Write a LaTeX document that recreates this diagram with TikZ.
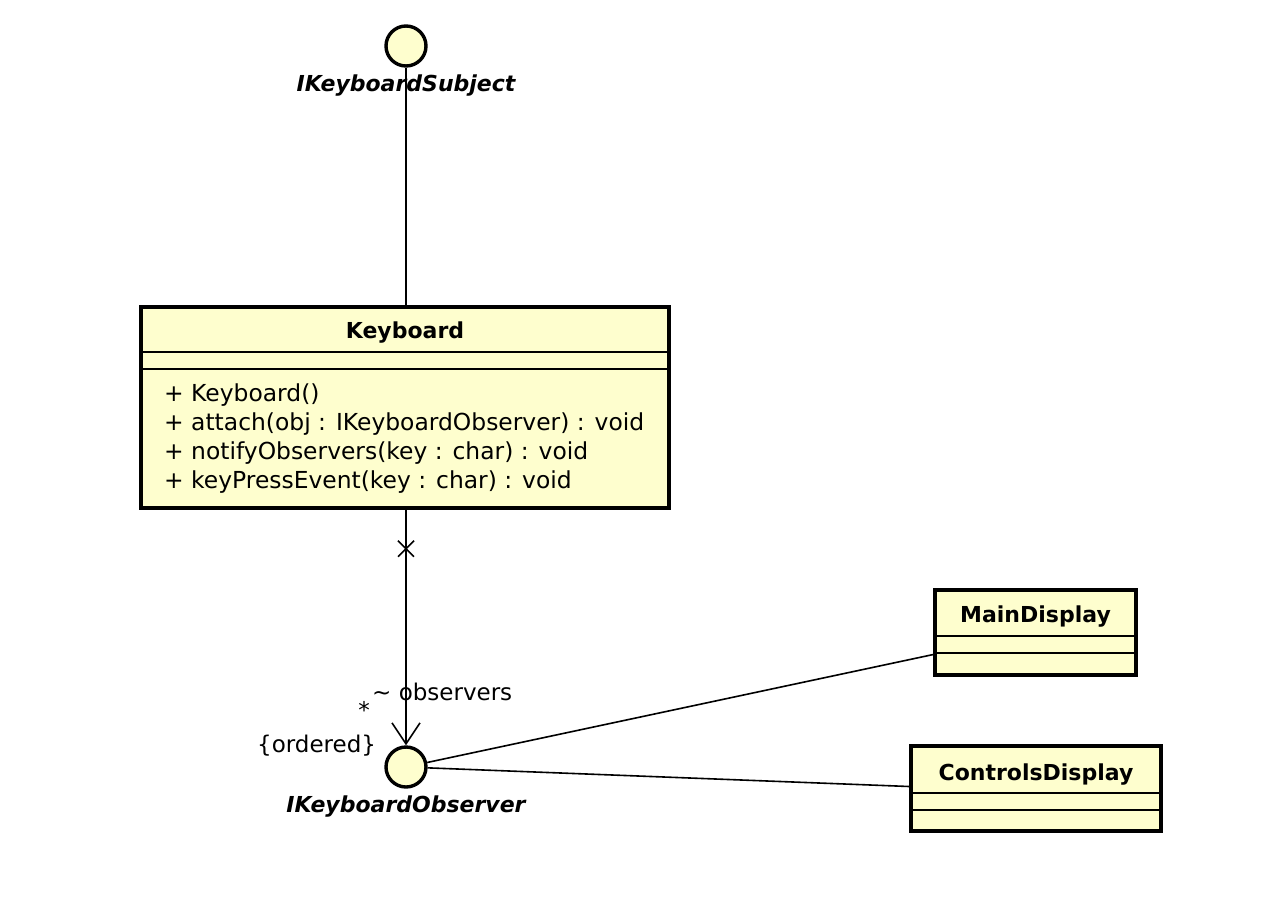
\documentclass[tikz,border=0pt]{standalone}
\usepackage{fontspec}
\setmainfont{DejaVu Sans}
\usetikzlibrary{arrows.meta}
\definecolor{umlfill}{HTML}{FEFECE}
\tikzset{
  classbox/.style={draw=black, line width=3.4pt, fill=umlfill, inner sep=0pt},
  iface/.style={circle, draw=black, line width=3.4pt, fill=umlfill, minimum size=40pt, inner sep=0pt},
  sep/.style={line width=1.6pt},
  conn/.style={line width=1.6pt},
  ititle/.style={font=\fontsize{22}{26}\selectfont\bfseries\itshape, inner sep=0pt, anchor=base},
  ctitle/.style={font=\fontsize{22}{26}\selectfont\bfseries, inner sep=0pt, anchor=base},
  member/.style={font=\fontsize{23.4}{29}\selectfont, inner sep=0pt, anchor=base west},
  lbl/.style={font=\fontsize{23}{29}\selectfont, inner sep=0pt},
}
\begin{document}
\begin{tikzpicture}[x=1pt,y=-1pt]
\useasboundingbox (0,0) rectangle (1268,898);

% interfaces
\node[iface] (subj) at (406,46) {};
\node[ititle] (subjlbl) at (406,91) {IKeyboardSubject};
\node[iface] (obs) at (406,767) {};
\node[ititle] (obslbl) at (406,812) {IKeyboardObserver};

% Keyboard class
\node[classbox, minimum width=528pt, minimum height=201pt] (kb) at (405,407.5) {};
\node[ctitle] (kbtitle) at (405,338) {Keyboard};
\draw[sep] (141,352) -- (669,352);
\draw[sep] (141,369) -- (669,369);
\node[member] (m1) at (164,401) {+ Keyboard()};
\node[member] (m2) at (164,430) {+ attach(obj : IKeyboardObserver) : void};
\node[member] (m3) at (164,459) {+ notifyObservers(key : char) : void};
\node[member] (m4) at (164,488) {+ keyPressEvent(key : char) : void};

% MainDisplay
\node[classbox, minimum width=201pt, minimum height=85pt] (md) at (1035.5,632.5) {};
\node[ctitle] (mdtitle) at (1035.5,622) {MainDisplay};
\draw[sep] (935,636) -- (1136,636);
\draw[sep] (935,653) -- (1136,653);

% ControlsDisplay
\node[classbox, minimum width=250pt, minimum height=85pt] (cd) at (1036,788.5) {};
\node[ctitle] (cdtitle) at (1036,780) {ControlsDisplay};
\draw[sep] (911,793) -- (1161,793);
\draw[sep] (911,810) -- (1161,810);

% connectors
\draw[conn] (subj) -- (subj |- kb.north);
\draw[conn, -{Straight Barb[length=21pt,width=28pt,line width=1.6pt]}] (obs |- kb.south) -- (obs.north);
\draw[conn] ([xshift=-8pt,yshift=-31pt]obs |- kb.south) -- ([xshift=8pt,yshift=-47pt]obs |- kb.south);
\draw[conn] ([xshift=8pt,yshift=-31pt]obs |- kb.south) -- ([xshift=-8pt,yshift=-47pt]obs |- kb.south);
\draw[conn] (obs) -- ([yshift=-22pt]md.west);
\draw[conn] (obs) -- ([yshift=2pt]cd.west);

% association labels
\node[lbl, anchor=base west] (rolelbl) at (372,700) {\char`\~{} observers};
\node[lbl, anchor=base] (multlbl) at (364,718) {*};
\node[lbl, anchor=base west] (ordlbl) at (257,752) {\{ordered\}};
\end{tikzpicture}
\end{document}
